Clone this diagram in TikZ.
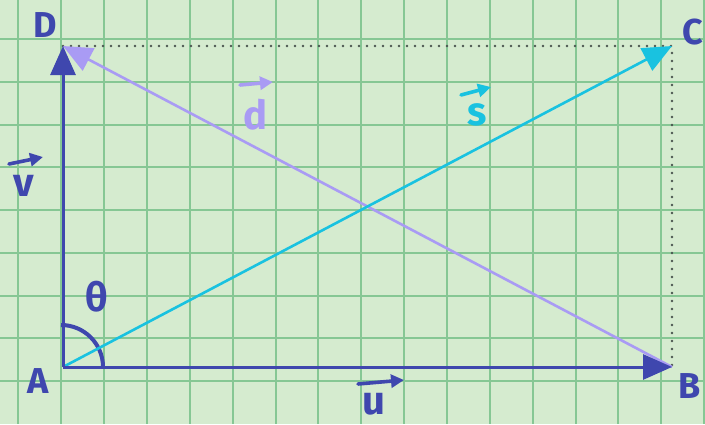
\documentclass[tikz,border=0pt]{standalone}
\usepackage{fontspec}
\setmainfont{Fira Sans}
\usetikzlibrary{arrows.meta}
\definecolor{bg}{HTML}{D5EBCF}
\definecolor{gridc}{HTML}{86C794}
\definecolor{vblue}{HTML}{3F47AE}
\definecolor{vcyan}{HTML}{19C2E0}
\definecolor{vlav}{HTML}{A99BF4}
\definecolor{dotc}{HTML}{4A5550}
\begin{document}
\begin{tikzpicture}[x=1pt,y=-1pt,
  gridline/.style={gridc, line width=2pt},
  vecline/.style={line width=2.6pt, -{Triangle[length=29pt,width=25pt]}},
  smallarrow/.style={line width=3.6pt, line cap=round, -{Triangle[length=13pt,width=13pt]}},
  corner/.style={text=vblue, font=\fontsize{36}{36}\selectfont\bfseries, inner sep=0pt},
  veclabel/.style={font=\fontsize{40}{40}\selectfont\bfseries, inner sep=0pt},
  dots/.style={dotc, line width=2.6pt, line cap=round, dash pattern=on 0pt off 8pt}]
\fill[bg] (0,0) rectangle (705,424);
\useasboundingbox (0,0) rectangle (705,424);
\foreach \i in {0,...,16} \draw[gridline] ({18.3+42.87*\i},0) -- ++(0,424);
\foreach \j in {0,...,9} \draw[gridline] (0,{-3.75+42.75*\j}) -- ++(705,0);
\coordinate (A) at (63,367);
\coordinate (B) at (672,367);
\coordinate (C) at (672,46);
\coordinate (D) at (63,46);
% dotted completion of the rectangle
\draw[dots] (D) -- (C) -- (B);
% angle arc
\draw[vblue, line width=4pt] (61,325) arc[start angle=-90, end angle=0, radius=42];
% vectors
\draw[vecline, vlav] (B) -- (D);
\draw[vecline, vcyan] (A) -- (C);
\draw[vecline, vblue, line width=3pt] (A) -- (D);
\draw[vecline, vblue, line width=3pt] (A) -- (B);
% corner labels
\node[corner] (lD) at (45,25) {D};
\node[corner] (lC) at (693,32) {C};
\node[corner] (lA) at (38,381) {A};
\node[corner] (lB) at (690,386) {B};
\node[veclabel, text=vblue] (lth) at (97,297) {θ};
% vector labels
\node[veclabel, text=vblue, anchor=base, text depth=0pt] (lu) at (374,414) {u};
\draw[smallarrow, vblue] (358,384) -- (404,380);
\node[veclabel, text=vlav] (ld) at (255,115) {d};
\draw[smallarrow, vlav] (240,85) -- (273,82);
\node[veclabel, text=vcyan] (ls) at (477,115) {s};
\draw[smallarrow, vcyan] (461,95) -- (491,87);
\node[veclabel, text=vblue] (lv) at (24,186) {v};
\draw[smallarrow, vblue] (9,164) -- (43,157);
\end{tikzpicture}
\end{document}
